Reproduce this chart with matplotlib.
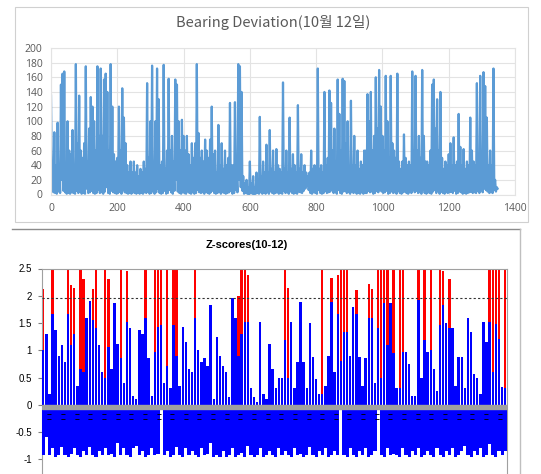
import matplotlib
matplotlib.use("Agg")
import matplotlib.pyplot as plt
import numpy as np
from matplotlib.lines import Line2D
from matplotlib.patches import Rectangle

# ---- top chart: bearing deviation ----
# spikes read every 5 samples, and the dips between them (at +2.5)
bearing_step = 5
bearing_peaks = [
    135, 45, 85, 40, 98, 35, 150, 165, 168, 40,
    100, 60, 55, 88, 30, 178, 70, 135, 60, 50,
    70, 175, 45, 90, 133, 120, 100, 60, 175, 80,
    172, 80, 157, 165, 140, 60, 178, 120, 55, 45,
    50, 120, 60, 145, 105, 70, 40, 30, 45, 30,
    45, 30, 40, 25, 35, 30, 45, 35, 152, 50,
    100, 176, 40, 100, 172, 130, 40, 45, 177, 35,
    60, 158, 60, 80, 45, 157, 150, 100, 60, 102,
    80, 60, 80, 55, 40, 70, 50, 70, 178, 84,
    50, 60, 45, 75, 60, 50, 75, 120, 55, 60,
    30, 95, 40, 70, 35, 60, 40, 50, 125, 40,
    40, 126, 35, 178, 175, 140, 25, 15, 20, 10,
    45, 15, 25, 10, 30, 20, 106, 25, 45, 30,
    68, 30, 88, 35, 60, 30, 62, 40, 35, 30,
    153, 35, 60, 30, 105, 35, 55, 40, 30, 122,
    35, 55, 30, 40, 30, 25, 30, 60, 35, 40,
    35, 172, 35, 40, 30, 140, 40, 50, 142, 125,
    60, 90, 45, 157, 110, 60, 158, 155, 70, 100,
    35, 128, 40, 80, 40, 60, 35, 45, 40, 60,
    60, 137, 100, 140, 60, 80, 160, 90, 170, 120,
    80, 60, 162, 100, 50, 162, 70, 60, 50, 165,
    45, 35, 45, 82, 50, 40, 45, 40, 168, 60,
    162, 60, 80, 50, 170, 80, 45, 45, 40, 60,
    150, 157, 90, 130, 60, 140, 50, 35, 45, 40,
    55, 70, 40, 78, 40, 45, 110, 65, 40, 62,
    35, 45, 40, 105, 60, 45, 40, 152, 40, 162,
    45, 167, 148, 105, 40, 60, 40, 172, 20, 10,
]
bearing_dips = [
    30, 3, 2, 1, 4, 2, 20, 5, 3, 1,
    2, 1, 3, 2, 1, 5, 2, 4, 1, 2,
    1, 8, 2, 3, 5, 2, 1, 2, 6, 2,
    3, 1, 4, 10, 2, 1, 5, 3, 2, 1,
    2, 4, 1, 6, 3, 2, 1, 2, 1, 3,
    2, 1, 3, 1, 2, 1, 3, 2, 4, 1,
    2, 5, 1, 3, 8, 2, 1, 2, 5, 1,
    2, 6, 3, 1, 5, 20, 4, 2, 1, 3,
    2, 1, 4, 2, 1, 3, 1, 2, 6, 3,
    2, 3, 1, 4, 2, 1, 3, 5, 2, 1,
    2, 4, 1, 3, 2, 1, 2, 3, 5, 1,
    2, 6, 3, 20, 10, 5, 1, 2, 1, 0,
    2, 1, 0, 1, 2, 1, 3, 1, 2, 1,
    3, 1, 4, 2, 1, 2, 3, 1, 2, 1,
    5, 2, 3, 1, 4, 2, 1, 2, 1, 4,
    3, 2, 5, 8, 12, 6, 2, 1, 3, 2,
    1, 6, 2, 1, 2, 5, 2, 3, 4, 6,
    2, 3, 1, 6, 2, 1, 4, 5, 2, 3,
    1, 4, 2, 3, 1, 2, 1, 3, 1, 2,
    2, 5, 3, 4, 1, 2, 5, 3, 6, 4,
    2, 3, 5, 1, 2, 4, 2, 3, 1, 5,
    2, 1, 3, 4, 2, 1, 3, 2, 6, 3,
    5, 2, 3, 1, 6, 2, 1, 3, 2, 1,
    4, 6, 2, 5, 1, 4, 2, 1, 3, 2,
    3, 4, 2, 5, 1, 2, 4, 3, 1, 2,
    1, 2, 3, 4, 2, 3, 2, 5, 2, 6,
    3, 8, 6, 4, 2, 3, 2, 6, 4, 8,
]

# ---- bottom chart: z-scores ----
z_red = [
    2.13, 0, 0, 2.5, 0, 0, 0, 0, 2.5, 2.2,
    2.15, 0, 2.5, 2.3, 0, 0, 2.13, 2.5, 0, 0,
    2.5, 2.3, 0, 0, 0, 2.5, 0, 2.45, 0, 0,
    0, 0, 0, 2.5, 0, 0, 2.5, 2.5, 2.5, 0,
    2.5, 0, 2.5, 2.5, 0, 0, 0, 0, 0, 2.5,
    0, 0, 0, 0, 0, 0, 0, 0, 0, 0,
    0, 0, 0, 2.0, 2.5, 2.5, 2.38, 0, 0, 0,
    0, 0, 0, 0, 0, 0, 0, 0, 2.5, 2.15,
    0, 0, 0, 0, 0, 0, 0, 0, 0, 0,
    2.5, 0, 0, 2.32, 0, 2.38, 2.5, 2.5, 2.5, 0,
    0, 2.1, 0, 0, 0, 2.22, 2.13, 0, 2.5, 2.5,
    2.5, 2.5, 0, 2.5, 0, 2.5, 2.5, 0, 0, 0,
    0, 2.5, 0, 2.5, 0, 2.5, 0, 0, 2.5, 2.45,
    0, 2.3, 0, 0, 0, 0, 0, 0, 0, 0,
    0, 0, 0, 0, 2.5, 2.5, 2.5, 2.5, 0, 2.5,
]
z_blue = [
    1.0, 1.3, 0.2, 1.67, 1.37, 0.9, 1.1, 0.78, 1.67, 1.1,
    1.3, 0.35, 0.66, 0.6, 1.6, 1.9, 1.55, 1.4, 1.1, 0.6,
    0.5, 1.06, 0.66, 1.86, 1.12, 0.85, 0.4, 1.52, 1.4, 0.17,
    0.1, 1.37, 1.3, 1.6, 0.85, 0.17, 0.97, 1.43, 1.46, 0.4,
    0.72, 0.3, 1.46, 0.9, 0.35, 1.43, 1.15, 0.66, 0.6, 1.6,
    1.0, 0.78, 0.85, 0.72, 1.83, 0.1, 1.25, 0.9, 0.72, 0.6,
    0.14, 1.95, 1.6, 0.9, 1.3, 1.52, 1.52, 0.3, 0.14, 0.05,
    1.52, 0.2, 0.1, 1.12, 0.66, 0.3, 0.5, 0.5, 1.18, 0.5,
    1.52, 0.3, 0.78, 1.89, 0.78, 0.3, 1.5, 0.88, 0.48, 0.2,
    0.2, 0.35, 0.9, 1.89, 0.6, 1.67, 0.8, 1.34, 1.34, 0.9,
    1.8, 1.67, 0.88, 0.35, 0.85, 1.6, 1.6, 0.4, 1.4, 0.5,
    1.86, 1.1, 1.86, 0.95, 0.3, 0.3, 0.97, 0.97, 0.75, 0.17,
    0.17, 1.92, 0.5, 1.18, 0.97, 1.0, 0.66, 0.26, 1.46, 1.83,
    1.5, 1.4, 1.4, 0.35, 0.88, 0.88, 0.3, 1.6, 1.34, 0.57,
    0.5, 0.2, 1.52, 1.15, 1.52, 0.6, 1.49, 1.2, 0.32, 0.3,
]
z_neg = [
    -0.93, -0.6, -0.93, -0.8, -0.95, -0.93, -0.78, -0.93, -0.95, -0.9,
    -0.8, -0.93, -0.95, -0.85, -0.93, -0.78, -0.93, -0.95, -0.85, -0.93,
    -0.8, -0.93, -0.9, -0.95, -0.7, -0.93, -0.8, -0.93, -0.95, -0.8,
    -0.75, -0.93, -0.85, -0.95, -0.93, -0.8, -0.93, -0.9, 0.0, -0.93,
    -0.85, -0.95, -0.93, -0.78, -0.93, -0.95, -0.8, -0.93, -0.85, -0.93,
    -0.95, -0.8, -0.93, -0.9, -0.7, -0.95, -0.93, -0.95, -0.85, -0.95,
    -0.93, -0.8, -0.95, -0.93, -0.88, -0.95, -0.75, -0.93, -0.95, -0.93,
    -0.8, -0.95, -0.93, -0.85, -0.93, -0.95, -0.8, -0.93, -0.85, -0.93,
    -0.95, -0.8, -0.93, -0.9, -0.95, -0.93, -0.78, -0.93, -0.95, -0.85,
    -0.93, -0.8, -0.95, -0.93, -0.85, -0.93, 0.0, -0.93, -0.95, -0.8,
    -0.93, -0.95, -0.85, -0.93, -0.8, -0.95, -0.93, -0.85, 0.0, -0.93,
    -0.95, -0.8, -0.93, -0.9, -0.93, -0.95, -0.8, -0.93, -0.95, -0.85,
    -0.93, -0.8, -0.95, -0.93, -0.85, -0.93, -0.95, -0.8, -0.93, -0.95,
    -0.85, -0.93, -0.8, -0.95, -0.93, -0.85, -0.75, -0.93, -0.95, -0.85,
    -0.93, -0.8, -0.95, -0.93, -0.72, -0.93, -0.95, -0.85, -0.93, -0.85,
]
z_ticks = [-1, -0.5, 0, 0.5, 1, 1.5, 2, 2.5]
z_tick_labels = ["-1", "-0.5", "0", "0.5", "1", "1.5", "2", "2.5"]
z_crit = 1.96

W, H = 541, 474
fig = plt.figure(figsize=(W / 100, H / 100), dpi=100)

# outer chart frames
fig.add_artist(Rectangle((15 / W, 1 - 222 / H), 513 / W, 215 / H, transform=fig.transFigure,
                         fill=False, ec="#d0d0d0", lw=0.8))
fig.add_artist(Line2D([12 / W, 520 / W], [1 - 229 / H, 1 - 229 / H], transform=fig.transFigure,
                      color="#8c8c8c", lw=1.0))
fig.add_artist(Line2D([520 / W, 520 / W], [1 - 229 / H, 0], transform=fig.transFigure,
                      color="#bfbfbf", lw=1.0))

# ---------- top ----------
ax1 = fig.add_axes([51 / W, 1 - 194.5 / H, 464 / W, 146.5 / H])
n = len(bearing_peaks)
x_top = np.empty(2 * n)
y_top = np.empty(2 * n)
x_top[0::2] = np.arange(n) * bearing_step
x_top[1::2] = np.arange(n) * bearing_step + bearing_step / 2
y_top[0::2] = bearing_peaks
y_top[1::2] = bearing_dips
ax1.plot(x_top, y_top, color="#5b9bd5", lw=1.6)
ax1.set_xlim(0, 1400)
ax1.set_ylim(0, 200)
ax1.set_xticks(range(0, 1401, 200))
ax1.set_yticks(range(0, 201, 20))
ax1.grid(True, color="#e3e3e3", lw=0.8)
ax1.set_axisbelow(True)
for s in ax1.spines.values():
    s.set_color("#e3e3e3")
    s.set_linewidth(0.8)
ax1.tick_params(length=0, labelsize=7.5, labelcolor="#595959", pad=6)
for lab in ax1.get_xticklabels() + ax1.get_yticklabels():
    lab.set_family("Open Sans")
fig.text(273 / W, 1 - 22 / H, "Bearing Deviation(10월 12일)", ha="center", va="center",
         fontsize=10.5, color="#595959", family=["Noto Sans CJK KR", "DejaVu Sans"])

# ---------- bottom ----------
ax2 = fig.add_axes([41.7 / W, 0, 465 / W, (H - 268.5) / H])
idx = np.arange(len(z_blue))
ax2.bar(idx, z_red, width=0.8, color="#ff0000", zorder=2)
ax2.bar(idx, z_blue, width=0.8, color="#0000ff", zorder=3)
ax2.bar(idx, z_neg, width=1.0, color="#0000ff", zorder=3)
ax2.axhspan(-0.085, 0, color="#a0a0a0", zorder=4)
ax2.axhline(z_crit, color="#333333", lw=0.8, ls=(0, (2, 2)), zorder=5)
ax2.set_xlim(-0.5, len(z_blue) - 0.5)
ax2.set_ylim(-1.27, 2.5)

# category axis crosses at 0; its (squeezed) labels peek through the bars
ax2.spines["bottom"].set_position(("data", -0.085))
ax2.spines["bottom"].set_visible(False)
ax2.set_xticks(np.arange(2, len(z_blue), 4.4))
ax2.set_xticklabels(["‒\n‒"] * len(ax2.get_xticks()))
ax2.tick_params(axis="x", length=0, pad=1, labelsize=5, labelcolor="black")
ax2.xaxis.set_zorder(6)
for lab in ax2.get_xticklabels():
    lab.set_fontweight("bold")
    lab.set_linespacing(0.9)

ax2.set_yticks(z_ticks)
ax2.set_yticklabels(z_tick_labels)
ax2.tick_params(axis="y", length=3, width=0.8, color="#808080", labelsize=7, pad=4)
for lab in ax2.get_yticklabels():
    lab.set_family("Liberation Sans")
for side in ["left", "right", "top"]:
    ax2.spines[side].set_color("#a0a0a0")
    ax2.spines[side].set_linewidth(0.8)
fig.text(247 / W, 1 - 245 / H, "Z-scores(10-12)", ha="center", va="center",
         fontsize=8, fontweight="bold", family="Liberation Sans")

fig.savefig("out.png", dpi=100)
